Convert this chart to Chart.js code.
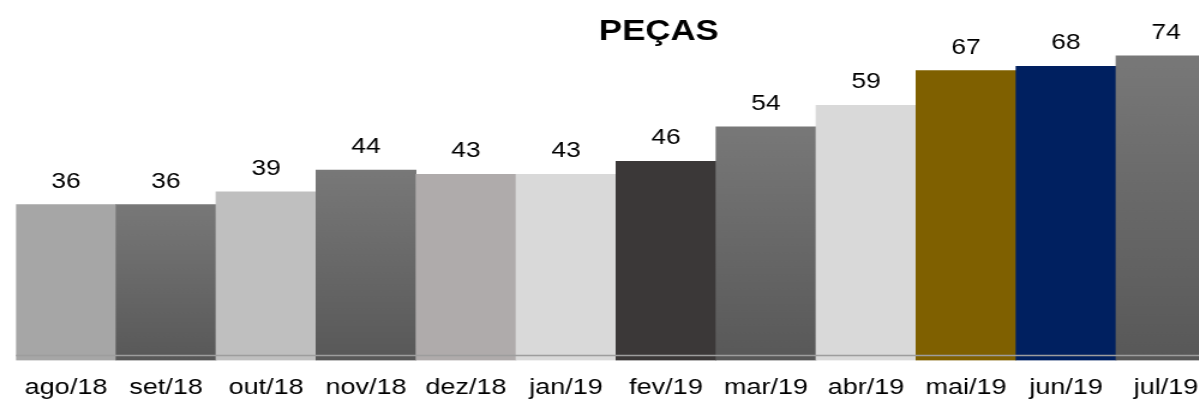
<!DOCTYPE html>
<html>
<head>
<meta charset="utf-8">
<script src="https://cdn.jsdelivr.net/npm/chart.js@4/dist/chart.umd.min.js"></script>
<style>
  html, body { margin: 0; padding: 0; background: #fff; overflow: hidden; }
  #wrap { width: 1014px; height: 401px; transform: scaleX(1.2); transform-origin: 0 0; }
</style>
</head>
<body>
<div id="wrap"><canvas id="chart" width="1014" height="401"></canvas></div>
<script>
const titleText = "PEÇAS";

const months = ["ago/18", "set/18", "out/18", "nov/18", "dez/18", "jan/19",
  "fev/19", "mar/19", "abr/19", "mai/19", "jun/19", "jul/19"];

// bar heights
const barValues = [36, 36, 39, 44, 43, 43, 46, 54, 59, 67, 68, 70.4];

// numbers printed above the bars
const printedValues = [36, 36, 39, 44, 43, 43, 46, 54, 59, 67, 68, 74];

const yMax = 80;

// "grad" = dark grey vertical gradient
const barFills = ["#a6a6a6", "grad", "#bfbfbf", "grad", "#afabab", "#d9d9d9",
  "#3b3838", "grad", "#d9d9d9", "#7f6000", "#002060", "grad"];

function fillFor(ctx) {
  const f = barFills[ctx.dataIndex];
  if (f !== "grad") return f;
  const chart = ctx.chart;
  const area = chart.chartArea;
  if (!area) return "#666666";
  const top = chart.scales.y.getPixelForValue(barValues[ctx.dataIndex]);
  const g = chart.ctx.createLinearGradient(0, top, 0, area.bottom);
  g.addColorStop(0, "#787878");
  g.addColorStop(1, "#585858");
  return g;
}

const labelsPlugin = {
  id: "labelsPlugin",
  afterDatasetsDraw(chart) {
    const ctx = chart.ctx;
    const area = chart.chartArea;
    // axis line sits a little above the bar bottoms
    ctx.save();
    ctx.strokeStyle = "#9d9d9d";
    ctx.lineWidth = 1.5;
    ctx.beginPath();
    ctx.moveTo(area.left, area.bottom - 5);
    ctx.lineTo(area.right, area.bottom - 5);
    ctx.stroke();

    ctx.fillStyle = "#000";
    ctx.font = "22px 'Liberation Sans', Arial, sans-serif";
    ctx.textAlign = "center";
    ctx.textBaseline = "alphabetic";
    const meta = chart.getDatasetMeta(0);
    meta.data.forEach((bar, i) => {
      ctx.fillText(String(printedValues[i]), bar.x, bar.y - 17);
    });

    ctx.font = "bold 29px 'Liberation Sans', Arial, sans-serif";
    ctx.fillText(titleText, 549, 40);
    ctx.restore();
  },
};

new Chart(document.getElementById("chart"), {
  type: "bar",
  data: {
    labels: months,
    datasets: [
      {
        data: barValues,
        backgroundColor: fillFor,
        borderWidth: 0,
        barPercentage: 1,
        categoryPercentage: 1,
      },
    ],
  },
  options: {
    responsive: false,
    animation: false,
    layout: { padding: { left: 13.33, right: 0.67, top: 14.4, bottom: -14.4 } },
    plugins: {
      legend: { display: false },
      tooltip: { enabled: false },
      title: { display: false },
    },
    scales: {
      x: {
        grid: { display: false, drawTicks: false },
        border: { display: false },
        ticks: {
          color: "#000",
          padding: 14,
          maxRotation: 0,
          autoSkip: false,
          font: { family: "'Liberation Sans', Arial, sans-serif", size: 22.5 },
        },
      },
      y: {
        display: false,
        min: 0,
        max: yMax,
      },
    },
  },
  plugins: [labelsPlugin],
});
</script>
</body>
</html>
